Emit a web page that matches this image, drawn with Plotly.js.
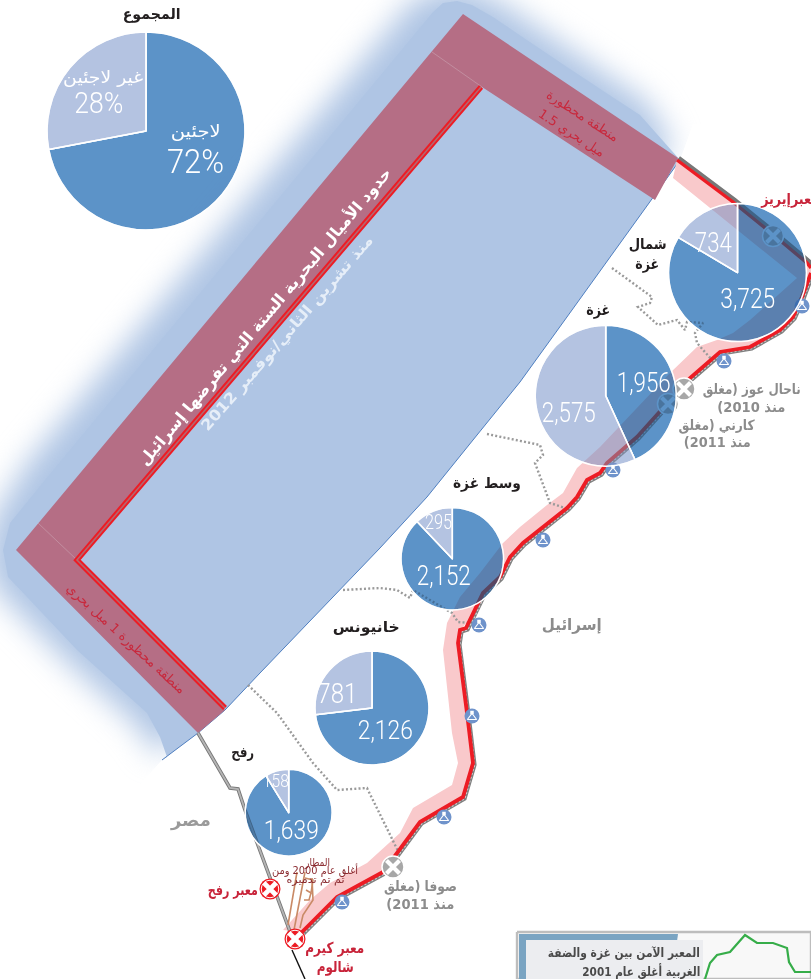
<!DOCTYPE html>
<html><head><meta charset="utf-8">
<script src="https://cdn.plot.ly/plotly-3.0.1.min.js"></script>
<style>html,body{margin:0;padding:0;background:#fff;overflow:hidden}</style>
</head><body><div id="chart" style="width:811px;height:979px"></div>
<script>
// ---- values
const totalLabels = ['لاجئين','غير لاجئين'];
const totalPercent = [72,28];
const northRefugees = [3725,734];
const gazaRefugees = [1956,2575];
const centralRefugees = [2152,295];
const khanRefugees = [2126,781];
const rafahRefugees = [1639,158];
const regionNames = ['المجموع','شمال','غزة','وسط غزة','خانيونس','رفح'];

// ---- map geometry (picture coordinates)
const seaX = [680,640,617,567,493,472,457,443,433,45,10,3,8,27,77,147,160,167,162,198,225,260,380,427,473,520,572,680];
const seaY = [160,115,100,67,17,5,1,3,12,480,523,550,577,597,650,713,737,757,760,733,710,673,548,497,440,382,310,160];
const blurX = [672,648,500,458,413,28,-5,-14,-8,14,66,136,150,158,300];
const blurY = [146,103,2,-16,0,462,515,550,585,608,661,724,745,756,600];
const landX = [-10,162,198,225,260,380,427,473,520,572,680,693,811,811,-10];
const landY = [950,760,733,710,673,548,497,440,382,310,160,124,124,979,979];
const bandX = [463,678,655,482,77,225,198,16];
const bandY = [14,158,200,87,560,710,733,550];
const seamAX = [432,482], seamAY = [52,87];
const seamBX = [38,77], seamBY = [523,560];
const limitX = [481,77,225], limitY = [87,560,708];
const fenceNorthX = [677,733,770,807,811];
const fenceNorthY = [160,202,232,263,268];
const fenceSouthX = [811,802,793,780,750,720,690,660,637,607,600,587,577,567,540,523,510,500,483,472,466,460,458,467,473,463,420,383,337,302];
const fenceSouthY = [273,297,317,330,347,352,378,412,437,463,473,480,497,508,530,543,557,577,593,617,628,630,643,713,763,797,822,872,897,932];
const pinkX = [677,673,797,750,733,717,697,670,600,577,563,547,520,503,480,460,447,443,452,458,452,413,400,367,330,310,283,302,337,383,420,463,473,467,458,460,472,483,500,510,523,540,567,577,587,600,607,637,660,690,720,750,780,793,811,811,733];
const pinkY = [160,178,278,320,333,340,347,373,447,468,493,505,527,543,573,597,623,650,733,763,785,808,833,863,883,900,930,932,897,872,822,797,763,713,643,630,617,593,577,557,543,530,508,497,480,473,463,437,412,378,352,347,330,317,273,268,202];
const dotsAX = [612,652,650,638,658,677,685,687,703,695,697,712];
const dotsAY = [268,297,303,307,325,320,330,322,323,333,343,360];
const dotsBX = [487,515,540,543,535,550,565];
const dotsBY = [434,440,445,455,463,503,508];
const dotsCX = [343,380,397,410,413,452,458,470];
const dotsCY = [590,588,590,598,590,613,622,623];
const dotsDX = [248,277,313,337,367,400];
const dotsDY = [685,713,763,790,788,855];
const egyptX = [198,230,238,245,292], egyptY = [733,788,789,810,937];
const blackX = [292,305], blackY = [950,979];
const airportA = [[297,288],[872,925]];
const airportB = [[305,300,294],[872,900,930]];
const airportC = [[305,313,311,306,null,311,309,304],[878,880,893,890,null,893,900,900]];
const airportD = [[312,313,303,300],[878,900,915,928]];
const closedRedX = [270,295], closedRedY = [889,939];
const closedGreyX = [393,684], closedGreyY = [867,389];
const underPieCrossX = [668,773], underPieCrossY = [404,236];
const towerX = [724,802,613,543,479,472,444,342];
const towerY = [361,306,470,540,625,716,817,902];
const insetFrameX = [517,811,811,517,517], insetFrameY = [932,932,979,979,932];
const insetSeaX = [519,678,672,519,519], insetSeaY = [934,934,979,979,934];
const insetBoxX = [526,703,703,526,526], insetBoxY = [940,940,979,979,940];
const greenX = [705,710,717,730,745,757,773,787,789,795,811];
const greenY = [979,963,955,952,935,943,943,948,962,972,972];

const shift=(a,d)=>a.map(v=>v==null?v:v+d);
const poly=(x,y,fill,line,w)=>({type:'scatter',mode:w?'lines':'none',x,y,fill:'toself',fillcolor:fill,line:{color:line||fill,width:w||0},hoverinfo:'skip'});
const path=(x,y,color,width,dash)=>({type:'scatter',mode:'lines',x,y,line:{color,width,dash:dash||'solid',shape:'linear'},hoverinfo:'skip'});
const dotted=(x,y)=>path(x,y,'#9a9a9a',2.4,'2px 2.2px');
const marks=(x,y,symbol,size,color,lc,lw)=>({type:'scatter',mode:'markers',x,y,marker:{symbol,size,color,line:{color:lc||color,width:lw||0}},hoverinfo:'skip'});

const SEA='#afc5e4', BAND='#b56e85', RED='#ed1c24', PINK='#f9c9cb';
const traces=[
  poly(blurX,blurY,SEA),
  poly(landX,landY,'#ffffff'),
  poly(seaX,seaY,SEA),
  path(seaX.slice(18),seaY.slice(18),'#4f7fc0',1),
  poly(pinkX,pinkY,PINK),
  poly(bandX,bandY,BAND),
  path(seamAX,seamAY,'#c596a6',0.8),
  path(seamBX,seamBY,'#c596a6',0.8),
  path(limitX,limitY,RED,5.5),
  path(limitX,limitY,'#b5656f',1.6),
  dotted(dotsAX,dotsAY),dotted(dotsBX,dotsBY),dotted(dotsCX,dotsCY),dotted(dotsDX,dotsDY),
  path(egyptX,egyptY,'#777777',3.6),
  path(egyptX,egyptY,'#b5b5b5',1.8),
  path(blackX,blackY,'#111111',1.4),
  path(shift(fenceNorthX,1.8),shift(fenceNorthY,-2.2),'#777777',4),
  path(shift(fenceSouthX,1.8),shift(fenceSouthY,1.8),'#808080',3.6),
  path(shift(fenceSouthX,1.8),shift(fenceSouthY,1.8),'#cfcfcf',1.2,'2px 2px'),
  path(fenceNorthX,fenceNorthY,RED,3.4),
  path(fenceSouthX,fenceSouthY,RED,3.8),
  path(airportA[0],airportA[1],'#c98a66',1.6),
  path(airportB[0],airportB[1],'#c98a66',1.6),
  path(airportC[0],airportC[1],'#c98a66',1.6),
  path(airportD[0],airportD[1],'#c98a66',1.6),
  // towers
  marks(towerX,towerY,'circle',15,'#6f93cb'),
  marks(towerX,shift(towerY,1.5),'triangle-up-open',8,'#ffffff','#ffffff',1.1),
  marks(towerX,shift(towerY,-3.5),'square',3.5,'#ffffff'),
  // crossings
  marks(closedRedX,closedRedY,'circle',21,RED),
  marks(closedRedX,closedRedY,'circle',17.5,RED,'#ffffff',1),
  marks(closedRedX,closedRedY,'x-thin',12,'#ffffff','#ffffff',4.6),
  marks(closedGreyX,closedGreyY,'circle',22,'#a7a7a7','#ffffff',1.5),
  marks(closedGreyX,closedGreyY,'x-thin',13,'#ffffff','#ffffff',4.2),
  marks(underPieCrossX,underPieCrossY,'circle',21,'#a7a7a7','#ffffff',1.5),
  marks(underPieCrossX,underPieCrossY,'x-thin',13,'#ffffff','#ffffff',4.2),
  // inset
  poly(insetFrameX,insetFrameY,'#f8f8f8','#bdbdbd',2.4),
  poly(insetSeaX,insetSeaY,'#7aa4c2'),
  path(greenX,greenY,'#36ad49',2.2),
  poly(insetBoxX,insetBoxY,'#ecedf0')
];

const W=811,H=979;
// each pie is drawn twice: a tinting pass and a translucent pass, so what lies beneath shows through
const pie=(values,labels,cx,cy,r)=>{
  const base={type:'pie',values,labels,sort:false,direction:'clockwise',rotation:0,textinfo:'none',hoverinfo:'skip',showlegend:false,
    domain:{x:[(cx-r)/W,(cx+r)/W],y:[1-(cy+r)/H,1-(cy-r)/H]}};
  traces.push({...base,marker:{colors:['#5d93c8','#b5c3e2'],line:{color:'#ffffff',width:1.5}}});
  traces.push({...base,marker:{colors:['rgba(93,147,200,0.4)','rgba(181,195,226,0.4)'],line:{color:'#ffffff',width:1.5}}});
};
pie(totalPercent,totalLabels,146,131,99);
pie(northRefugees,totalLabels,737.5,272.6,69);
pie(gazaRefugees,totalLabels,605.7,395.7,70.5);
pie(centralRefugees,totalLabels,452.3,558.7,51.3);
pie(khanRefugees,totalLabels,372,708,57);
pie(rafahRefugees,totalLabels,288.7,812.7,43.5);

const AR='"DejaVu Sans"', NUM='"Roboto",sans-serif';
const targetWidths=[];
const note=(text,x,y,size,color,w,opt={})=>{targetWidths.push(w);return {text,x,y,xref:'x',yref:'y',showarrow:false,xanchor:'center',yanchor:'middle',textangle:opt.angle||0,
  font:{family:opt.family||AR,size,color,weight:opt.bold?700:(opt.weight||400)},borderpad:0,borderwidth:0};};
const num=(v,x,y,size,w)=>note(v.toLocaleString('en-US'),x,y,size,'#ffffff',w,{family:NUM,weight:300});
const pct=(v,x,y,size,w)=>note(v+'%',x,y,size,'#ffffff',w,{family:NUM,weight:300});
const DARK='#231f20', GREY='#8c8c8c', CRIM='#c8243a', MAROON='#8a2a2f';
const B={bold:true};
const RLM='\u200F';
const annotations=[
  note(regionNames[0],151,14,15,DARK,58,B),
  note(regionNames[1],647,244,15,DARK,38,B),
  note(regionNames[2],647,264,15,DARK,24,B),
  note(regionNames[2],598,310,15,DARK,24,B),
  note(regionNames[3],487,483,15,DARK,68,B),
  note(regionNames[4],366,627,15,DARK,67,B),
  note(regionNames[5],242,752,15,DARK,23,B),
  note(totalLabels[0],195,131,17,'#ffffff',50),
  pct(totalPercent[0],195,161,34,57),
  note(totalLabels[1],103,77,17,'#ffffff',80),
  pct(totalPercent[1],98,102,30,49),
  num(northRefugees[1],713,242,28,37),
  num(northRefugees[0],748,298,28,55),
  num(gazaRefugees[0],644,382,28,54),
  num(gazaRefugees[1],569,412,28,54),
  num(centralRefugees[1],438,522,21,27),
  num(centralRefugees[0],444,575,28,54),
  num(khanRefugees[1],337,693,28,40),
  num(khanRefugees[0],385,730,26,55),
  num(rafahRefugees[1],276,780,19,26),
  num(rafahRefugees[0],291,830,26,55),
  note('مصر',190,820,17,'#9a9a9a',40,B),
  note('إسرائيل',571,624,16,GREY,60,B),
  note('حدود الأميال البحرية الستة التي تفرضها إسرائيل',265,317,16,'#ffffff',383,{bold:true,angle:-50}),
  note('منذ تشرين الثاني/نوفمبر 2012',287,333,15,'#e6eef8',253,{bold:true,angle:-49}),
  note('منطقة محظورة',582,116,13,'#c8283c',83,{angle:33}),
  note('1.5 ميل بحري',571,133,13,'#c8283c',76,{angle:33}),
  note('منطقة محظورة 1 ميل بحري',126,639,13,'#c8283c',156,{angle:42.5}),
  note('معبرإيريز',789,199,15,CRIM,58,B),
  note('معبر رفح',233,890,15,CRIM,50,B),
  note('معبر كيرم',335,948,15,CRIM,59,B),
  note('شالوم',335,967,15,CRIM,37,B),
  note('صوفا (مغلق',420,886,14,GREY,73,B),
  note('منذ 2011)'+RLM,420,904,14,GREY,68,B),
  note('ناحال عوز (مغلق',751,389,14,GREY,98,B),
  note('منذ 2010)'+RLM,751,407,14,GREY,68,B),
  note('كارني (مغلق',717,425,14,GREY,76,B),
  note('منذ 2011)'+RLM,717,442,14,GREY,67,B),
  note('المطار',317,862,10.5,MAROON,25),
  note('أغلق عام 2000 ومن',315,870,10.5,MAROON,86),
  note('ثم تم تدميره',315,879,10.5,MAROON,58),
  note('المعبر الآمن بين غزة والضفة',624,952,12.5,'#4a4a4a',152,B),
  note('الغربية أغلق عام 2001',641,971,12.5,'#4a4a4a',118,B)
];

const axis=(range)=>({range,visible:false,fixedrange:true,showgrid:false,zeroline:false});
Plotly.newPlot('chart',traces,{
  width:W,height:H,margin:{l:0,r:0,t:0,b:0,pad:0},paper_bgcolor:'#ffffff',plot_bgcolor:'#ffffff',
  xaxis:axis([0,W]),yaxis:axis([H,0]),showlegend:false,hovermode:false,annotations
},{displayModeBar:false,staticPlot:true}).then(gd=>{
  const first=gd.querySelector('.scatterlayer .trace');
  if(first) first.style.filter='blur(15px)';
  gd.querySelectorAll('.pielayer .trace').forEach((n,i)=>{ if(i%2===0) n.style.mixBlendMode='multiply'; });
  gd.querySelectorAll('.annotation').forEach(g=>{
    const i=+g.getAttribute('data-index');
    const t=g.querySelector('.annotation-text');
    if(t&&targetWidths[i]){t.setAttribute('textLength',targetWidths[i]);t.setAttribute('lengthAdjust','spacingAndGlyphs');}
  });
});
</script></body></html>
